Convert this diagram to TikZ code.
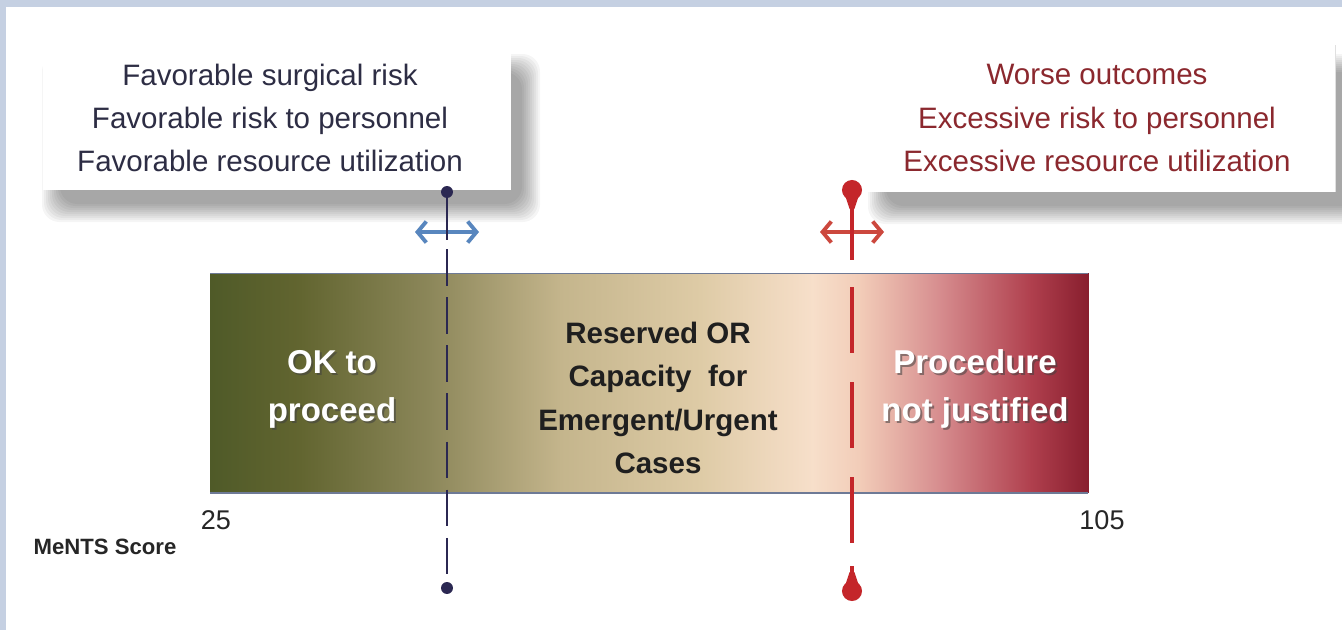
\documentclass[tikz,border=0pt]{standalone}
\usepackage{fontspec}
\setmainfont{Liberation Sans}
\usetikzlibrary{arrows.meta}

\definecolor{frameBlue}{RGB}{197,208,226}
\definecolor{goodNavy}{RGB}{43,40,82}
\definecolor{goodBlue}{RGB}{88,134,190}
\definecolor{goodText}{RGB}{45,45,68}
\definecolor{badRed}{RGB}{196,38,42}
\definecolor{badArrow}{RGB}{204,72,62}
\definecolor{badText}{RGB}{139,40,46}
\definecolor{barEdge}{RGB}{110,122,150}
% score bar, left to right
\definecolor{barA}{RGB}{79,90,40}
\definecolor{barB}{RGB}{98,101,48}
\definecolor{barC}{RGB}{140,135,90}
\definecolor{barD}{RGB}{196,181,140}
\definecolor{barE}{RGB}{222,203,166}
\definecolor{barF}{RGB}{247,223,202}
\definecolor{barG}{RGB}{242,204,184}
\definecolor{barH}{RGB}{214,140,142}
\definecolor{barI}{RGB}{176,64,78}
\definecolor{barJ}{RGB}{136,30,46}

\begin{document}
\begin{tikzpicture}[x=0.02cm, y=-0.02cm,
  boxtxt/.style={align=center, font=\fontsize{16.8}{24.5}\selectfont, inner sep=0pt},
  bartxt/.style={align=center, font=\bfseries\fontsize{18.8}{27.3}\selectfont, text=white, inner sep=0pt},
  midtxt/.style={align=center, font=\bfseries\fontsize{16.8}{24.8}\selectfont, text=black!88, inner sep=0pt},
  txtshadow/.style={text=black!75, opacity=0.55},
  num/.style={font=\fontsize{15.4}{18}\selectfont, text=black!85, inner sep=0pt},
  gdot/.style={circle, fill=goodNavy, minimum size=6.8pt, inner sep=0pt},
  rdrop/.style={circle, fill=badRed, minimum size=11.4pt, inner sep=0pt},
  gline/.style={goodNavy, line width=1.7pt},
  rline/.style={badRed, line width=2.8pt},
  garrow/.style={{Straight Barb[length=5pt, width=12pt]}-{Straight Barb[length=5pt, width=12pt]},
                 goodBlue, line width=2.2pt},
  rarrow/.style={{Straight Barb[length=5pt, width=12pt]}-{Straight Barb[length=5pt, width=12pt]},
                 badArrow, line width=2.2pt},
]
  \useasboundingbox (0,0) rectangle (1342,630);
  \fill[white] (0,0) rectangle (1342,630);
  \fill[frameBlue] (0,0) rectangle (1342,7);
  \fill[frameBlue] (0,0) rectangle (6,630);

  % Soft shadows under the two text boxes
  \foreach \i in {0,...,9} {
    \fill[black, opacity=0.04, rounded corners=10pt]
      ({60-18+2*\i},{72-18+2*\i}) rectangle ({522+18-2*\i},{204+18-2*\i});
    \fill[black, opacity=0.04, rounded corners=10pt]
      ({886-18+2*\i},{72-18+2*\i}) rectangle ({1370+18-2*\i},{206+18-2*\i});
  }
  \fill[white] (43,40) rectangle (511,190);
  \fill[white] (868,40) rectangle (1335,192);
  \draw[black!12, line width=0.4pt] (1335,45) -- (1335,192);

  % Left box: favourable side
  \node[boxtxt, text=goodText] (good) at (270,118)
    {Favorable surgical risk\\Favorable risk to personnel\\Favorable resource utilization};

  % Right box: excessive side
  \node[boxtxt, text=badText] (bad) at (1097,118)
    {Worse outcomes\\Excessive risk to personnel\\Excessive resource utilization};

  % Score bar
  \foreach \xa/\xb/\ca/\cb in {210/300/barA/barB, 300/430/barB/barC, 430/560/barC/barD,
      560/700/barD/barE, 700/812/barE/barF, 812/860/barF/barG, 860/940/barG/barH,
      940/1030/barH/barI, 1030/1088/barI/barJ}
    \shade[left color=\ca, right color=\cb] (\xa,273) rectangle ({\xb+0.8},492);
  \draw[barEdge, line width=0.6pt] (210,273.5) -- (1088,273.5);
  \draw[barEdge, line width=1.6pt] (210,493) -- (1088,493);

  \node[bartxt, txtshadow] at (334,391) {OK to\\proceed};
  \node[bartxt] (ok) at (332,389) {OK to\\proceed};
  \node[midtxt] (reserved) at (658,398) {Reserved OR\\Capacity\ \ for\\Emergent/Urgent\\Cases};
  \node[bartxt, txtshadow] at (977,391) {Procedure\\not justified};
  \node[bartxt] (notjust) at (975,389) {Procedure\\not justified};

  % Score axis
  \node[num] (low) at (216,520) {25};
  \node[num] (high) at (1102,520) {105};
  \node[font=\bfseries\fontsize{12.6}{15}\selectfont, text=black!85, inner sep=0pt] (score)
    at (105,547) {MeNTS Score};

  % Lower threshold
  \coordinate (gl) at (415,232);
  \coordinate (gr) at (479,232);
  \draw[garrow] (gl) -- (gr);
  \node[gdot] (gtop) at (447,192) {};
  \node[gdot] (gbot) at (447,588) {};
  \coordinate (gsplit) at (447,240);
  \coordinate (gdash) at (447,249);
  \coordinate (gend) at (447,574);
  \draw[gline] (gtop.center) -- (gsplit);
  \draw[gline, dash pattern=on 20.8pt off 6.6pt] (gdash) -- (gend);

  % Upper threshold
  \coordinate (rl) at (820,232);
  \coordinate (rr) at (884,232);
  \draw[rarrow] (rl) -- (rr);
  \node[rdrop] (rtop) at (852,190) {};
  \node[rdrop] (rbot) at (852,591) {};
  \fill[badRed] (845,195) -- (859,195) -- (854.4,209) -- (849.6,209) -- cycle;
  \fill[badRed] (845,586) -- (859,586) -- (854.4,572) -- (849.6,572) -- cycle;
  \coordinate (rsplit) at (852,260);
  \coordinate (rdash) at (852,287);
  \coordinate (rend) at (852,544);
  \draw[rline] (rtop.center) -- (rsplit);
  \draw[rline, dash pattern=on 37.6pt off 16.5pt] (rdash) -- (rend);
  \draw[rline] (852,566) -- (rbot.center);
\end{tikzpicture}
\end{document}
